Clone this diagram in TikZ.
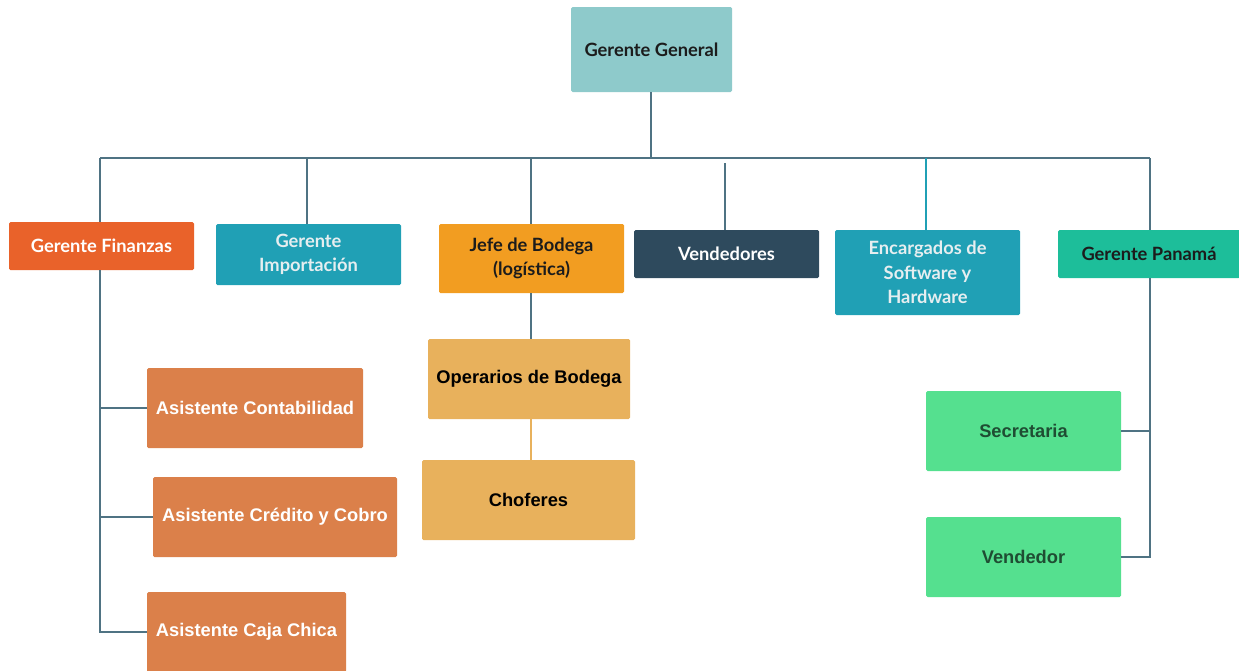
\documentclass[tikz,border=0pt]{standalone}
\usepackage{fontspec}
\newfontfamily\lato{Lato}
\newfontfamily\arialx{Liberation Sans}
\definecolor{linec}{HTML}{4F7383}
\definecolor{cgen}{HTML}{8ECACB}
\definecolor{cfin}{HTML}{E9622A}
\definecolor{cteal}{HTML}{20A0B5}
\definecolor{cjefe}{HTML}{F29D21}
\definecolor{cvend}{HTML}{2E4A5D}
\definecolor{cpan}{HTML}{1DBE9A}
\definecolor{casis}{HTML}{DB804A}
\definecolor{cope}{HTML}{E8B15C}
\definecolor{cgreen}{HTML}{55E08F}
\definecolor{tlight}{HTML}{E6EEF0}
\definecolor{tgreen}{HTML}{1F4D33}
\definecolor{tdark}{HTML}{1C1C1C}
\tikzset{
  box/.style={rectangle, rounded corners=1.5pt, inner sep=0pt, align=center},
  topbox/.style={box, font=\lato\bfseries\fontsize{18.3}{24.5}\selectfont},
  lowbox/.style={box, font=\arialx\bfseries\fontsize{18.3}{22}\selectfont},
  conn/.style={draw=linec, line width=2.2pt},
}
\begin{document}
\begin{tikzpicture}[x=1pt,y=-1pt]
\useasboundingbox (0,0) rectangle (1239,670);
% top
\node[topbox, fill=cgen, text=tdark, minimum width=161, minimum height=85] (gg) at (651.5,49.5) {Gerente General};
% level 2
\node[topbox, fill=cfin, text=white, minimum width=185, minimum height=48] (fin) at (101.5,246) {Gerente Finanzas};
\node[topbox, fill=cteal, text=tlight, minimum width=185, minimum height=61] (imp) at (308.5,254.5) {Gerente\\Importación};
\node[topbox, fill=cjefe, text=tdark, minimum width=185, minimum height=69] (jefe) at (531.5,258.5) {Jefe de Bodega\\(logística)};
\node[topbox, fill=cvend, text=white, minimum width=185, minimum height=48] (vend) at (726.5,254) {Vendedores};
\node[topbox, fill=cteal, text=tlight, minimum width=185, minimum height=85] (enc) at (927.5,272.5) {Encargados de\\Software y\\Hardware};
\node[topbox, fill=cpan, text=tdark, minimum width=182, minimum height=48] (pan) at (1149,254) {Gerente Panamá};
% level 3
\node[lowbox, fill=casis, text=white, minimum width=216, minimum height=80] (cont) at (255,408) {Asistente Contabilidad};
\node[lowbox, fill=casis, text=white, minimum width=244, minimum height=80] (cred) at (275,517) {Asistente Crédito y Cobro};
\node[lowbox, fill=casis, text=white, minimum width=199, minimum height=80] (caja) at (246.5,632) {Asistente Caja Chica};
\node[lowbox, fill=cope, text=black, minimum width=202, minimum height=80] (ope) at (529,379) {Operarios de Bodega};
\node[lowbox, fill=cope, text=black, minimum width=213, minimum height=80] (cho) at (528.5,500) {Choferes};
\node[lowbox, fill=cgreen, text=tgreen, minimum width=195, minimum height=80] (sec) at (1023.5,431) {Secretaria};
\node[lowbox, fill=cgreen, text=tgreen, minimum width=195, minimum height=80] (vdr) at (1023.5,557) {Vendedor};
% bus coordinates
\coordinate (bus) at (651,158);
\coordinate (busL) at (100,158);
\coordinate (busR) at (1150,158);
\coordinate (vtop) at (725,163);
\coordinate (finbot) at (100,632);
\coordinate (panbot) at (1150,557);
% connectors
\draw[conn] (gg.south -| bus) -- (bus);
\draw[conn] (busL) -- (busR);
\draw[conn] (busL) -- (fin.north -| busL);
\draw[conn] (imp.north -| 307,0) -- (307,158);
\draw[conn] (jefe.north -| 531,0) -- (531,158);
\draw[conn] (vtop) -- (vend.north -| vtop);
\draw[draw=cteal, line width=2.2pt] (enc.north -| 926,0) -- (926,158);
\draw[conn] (busR) -- (pan.north -| busR);
% finanzas branch
\draw[conn] (fin.south -| finbot) -- (finbot) -- (caja.west);
\draw[conn] (cont.west) -- (cont.west -| finbot);
\draw[conn] (cred.west) -- (cred.west -| finbot);
% bodega branch
\draw[conn] (jefe.south -| 531,0) -- (ope.north -| 531,0);
\draw[draw=cope, line width=2.2pt] (ope.south -| 531,0) -- (cho.north -| 531,0);
% panama branch
\draw[conn] (pan.south -| panbot) -- (panbot) -- (vdr.east);
\draw[conn] (sec.east) -- (sec.east -| panbot);
\end{tikzpicture}
\end{document}
